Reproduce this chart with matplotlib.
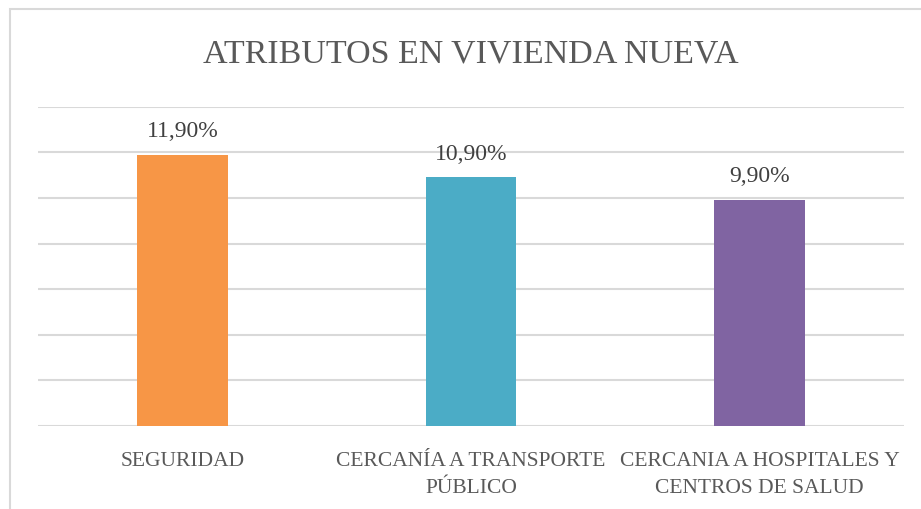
import matplotlib
matplotlib.use("Agg")
import matplotlib.pyplot as plt
from matplotlib.patches import Rectangle

categories = ["SEGURIDAD", "CERCANÍA A TRANSPORTE\nPÚBLICO", "CERCANIA A HOSPITALES Y\nCENTROS DE SALUD"]
values = [11.9, 10.9, 9.9]
labels = ["11,90%", "10,90%", "9,90%"]
colors = ["#F79646", "#4BACC6", "#8064A2"]

plt.rcParams['font.family'] = ['Liberation Serif', 'DejaVu Serif']

W, H = 921, 510
fig = plt.figure(figsize=(W/100, H/100), dpi=100)
ax = fig.add_axes([38/W, 1-427/H, (904-38)/W, (427-107.8)/H])

x = list(range(len(categories)))
ax.bar(x, values, width=0.315, color=colors, zorder=3)
ax.set_xlim(-0.5, 2.5)
ax.set_ylim(0, 14)
ax.set_yticks(range(0, 15, 2))
ax.yaxis.grid(True, color="#D9D9D9", linewidth=1.5, zorder=0)
ax.tick_params(axis='y', left=False, labelleft=False)
ax.tick_params(axis='x', length=0, pad=18, labelsize=15.5, labelcolor="#595959")
ax.set_xticks(x)
ax.set_xticklabels(categories, linespacing=1.58)
for s in ax.spines.values():
    s.set_visible(False)

for xi, v, lab in zip(x, values, labels):
    ax.annotate(lab, (xi, v), xytext=(0, 10), textcoords="offset points",
                ha="center", va="bottom", fontsize=17, color="#404040")

fig.text(471/W, 1-54/H, "ATRIBUTOS EN VIVIENDA NUEVA", ha="center", va="center",
         fontsize=24.5, color="#595959")

fig.patches.append(Rectangle((9.5/W, -0.1), 2, (1-10/H)+0.1, transform=fig.transFigure,
                             fill=False, edgecolor="#D9D9D9", linewidth=1.5))

fig.savefig("out.png", dpi=100)
